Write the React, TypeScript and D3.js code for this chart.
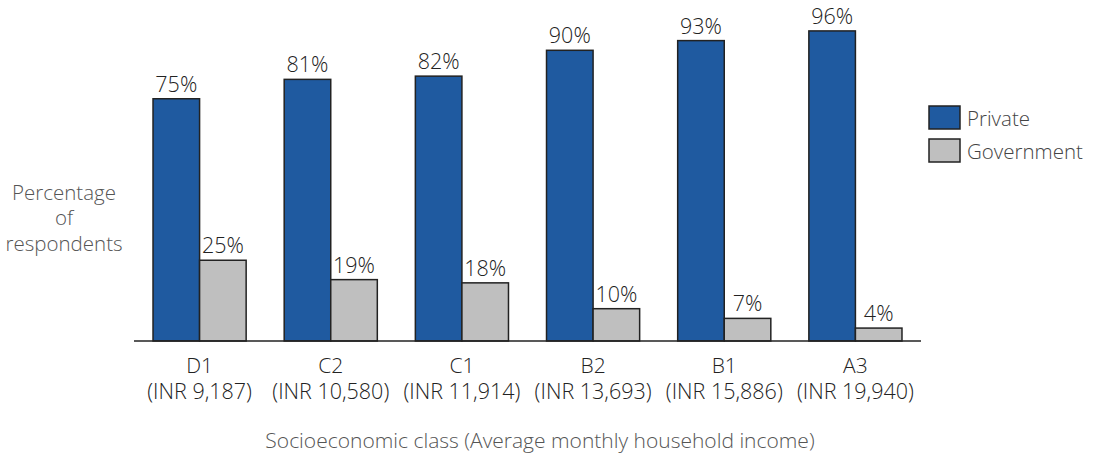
import React from 'react';
import * as d3 from 'd3';

const classes = ['D1', 'C2', 'C1', 'B2', 'B1', 'A3'];
const incomes = ['(INR 9,187)', '(INR 10,580)', '(INR 11,914)', '(INR 13,693)', '(INR 15,886)', '(INR 19,940)'];
const privateShare = [75, 81, 82, 90, 93, 96];
const governmentShare = [25, 19, 18, 10, 7, 4];
const seriesNames = ['Private', 'Government'];
const seriesColors = ['#1f5aa0', '#bfbfbf'];

const FONT = '"Open Sans", sans-serif';

export default function App() {
    const width = 1093, height = 455;
    const baseline = 341;

    const xScale = d3.scaleBand<string>()
        .domain(classes)
        .range([134, 921])
        .paddingInner(0.29)
        .paddingOuter(0.145);
    const subScale = d3.scaleBand<string>()
        .domain(seriesNames)
        .range([0, xScale.bandwidth()]);
    const yScale = d3.scaleLinear().domain([0, 100]).range([baseline, 18]);

    const series = [privateShare, governmentShare];

    return (
        <svg width={width} height={height} style={{position: 'absolute', left: 0, top: 0}}>
            <rect width={width} height={height} fill="#fff"/>
            {classes.map((c, i) => (
                <g key={c} transform={`translate(${xScale(c)},0)`}>
                    {series.map((values, s) => {
                        const x = subScale(seriesNames[s]) as number;
                        const y = yScale(values[i]);
                        return (
                            <g key={s}>
                                <rect x={x} y={y} width={subScale.bandwidth()} height={baseline - y}
                                      fill={seriesColors[s]} stroke="#222" strokeWidth={1.5}/>
                                <text x={x + subScale.bandwidth() / 2} y={y - 7} textAnchor="middle"
                                      fontFamily={FONT} fontWeight={300} fontSize={21.5} fill="#222">
                                    {values[i]}%
                                </text>
                            </g>
                        );
                    })}
                    <text x={xScale.bandwidth() / 2} y={373} textAnchor="middle"
                          fontFamily={FONT} fontWeight={300} fontSize={21} fill="#222">{c}</text>
                    <text x={xScale.bandwidth() / 2} y={399} textAnchor="middle"
                          fontFamily={FONT} fontWeight={300} fontSize={21.5} fill="#222">{incomes[i]}</text>
                </g>
            ))}
            <line x1={134} x2={921} y1={baseline} y2={baseline} stroke="#222" strokeWidth={1.5}/>

            <g fontFamily={FONT} fontWeight={300} fontSize={20.5} fill="#555" textAnchor="middle">
                <text x={64} y={200}>Percentage</text>
                <text x={64} y={225}>of</text>
                <text x={64} y={251}>respondents</text>
                <text x={540} y={448} fontSize={21}>Socioeconomic class (Average monthly household income)</text>
            </g>

            <g fontFamily={FONT} fontWeight={300} fontSize={20.5} fill="#444">
                {seriesNames.map((name, s) => (
                    <g key={name} transform={`translate(929,${106 + s * 33})`}>
                        <rect width={31} height={23} fill={seriesColors[s]} stroke="#222" strokeWidth={1.5}/>
                        <text x={38} y={20}>{name}</text>
                    </g>
                ))}
            </g>
        </svg>
    );
}
